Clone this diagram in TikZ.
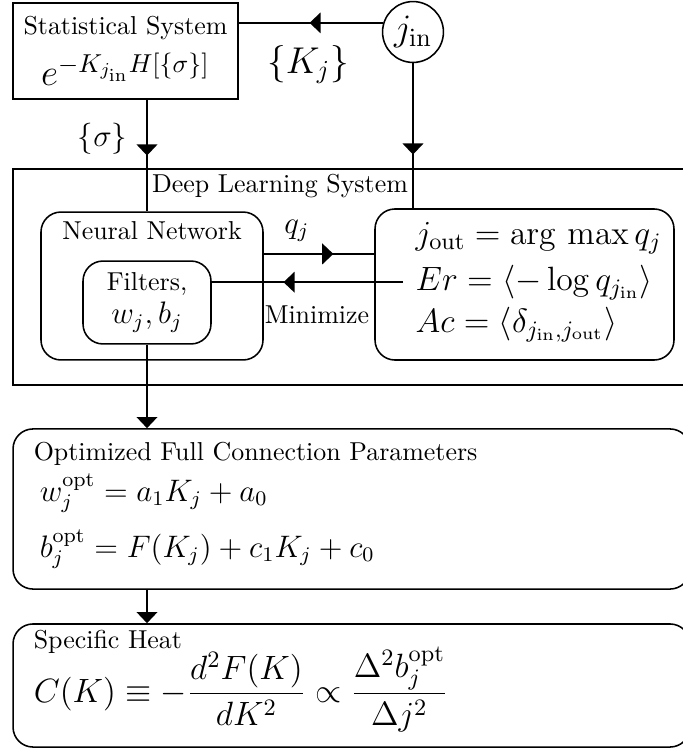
\RequirePackage{fix-cm}
\documentclass[tikz,border=0pt]{standalone}
\usepackage{tikz}
\usetikzlibrary{arrows.meta, positioning, decorations.markings}

\newcommand\eqfont{\fontsize{13}{15.6}\selectfont}

\begin{document}
\begin{tikzpicture}[x=0.386pt, y=-0.386pt, >={Triangle[length=4.3pt, width=8pt]}, line width=0.6pt,
    frame/.style={draw, rectangle, inner sep=0pt},
    block/.style={draw, rectangle, rounded corners=7.7pt, inner sep=0pt},
    eqn/.style={anchor=base west, inner xsep=4.6pt, inner ysep=0pt, font=\eqfont},
    heading/.style={anchor=base west, inner sep=0pt},
    midarrow/.style={postaction={decorate}, decoration={markings, mark=at position #1 with {\arrow{>}}}}]

\useasboundingbox (0,0) rectangle (683,748);
\clip (0,0) rectangle (683,748);

% input side
\node[frame, minimum width=86.9pt, minimum height=37.1pt, align=center] (stat) at (125.5,51) {Statistical System\\[4pt]\Large $e^{-K_{j_{\mathrm{in}}}H[\{\sigma\}]}$};
\node[circle, draw, minimum size=23.5pt, inner sep=0pt, font=\Large] (jin) at (413,32) {$j_{\mathrm{in}}$};

% deep learning part
\node[frame, minimum width=265.2pt, minimum height=83.4pt] (dl) at (356.5,277) {};
\node (dltitle) at (280,186.5) {Deep Learning System};
\node[block, minimum width=85.7pt, minimum height=57.1pt] (nn) at (152,286) {};
\node[below=0.5pt of nn.north] (nntitle) {Neural Network};
\node[block, minimum width=49.4pt, minimum height=32pt, align=center] (filt) at (147,302.5) {Filters,\\[1pt]\large $w_j, b_j$};
\node[block, minimum width=115.4pt, minimum height=58.3pt] (eqs) at (524.5,284.5) {};
\node[eqn] (jout) at (403,244) {$j_{\mathrm{out}} = \arg\,\max q_j$};
\node[eqn] (er) at (403,290) {$Er = \langle -\log q_{j_{\mathrm{in}}} \rangle$};
\node[eqn] (ac) at (403,332) {$Ac = \langle \delta_{j_{\mathrm{in}}, j_{\mathrm{out}}} \rangle$};

% results
\node[block, minimum width=261.3pt, minimum height=61.8pt] (opt) at (351.5,509) {};
\node[heading] (opttitle) at (33,460) {Optimized Full Connection Parameters};
\node[heading, font=\large] (wopt) at (39,501) {$w_j^{\mathrm{opt}} = a_1 K_j + a_0$};
\node[heading, font=\large] (bopt) at (39,557) {$b_j^{\mathrm{opt}} = F(K_j) + c_1 K_j + c_0$};
\node[block, minimum width=261.3pt, minimum height=47.5pt] (spec) at (351.5,685.5) {};
\node[heading] (spectitle) at (33,648) {Specific Heat};
\node[heading, font=\eqfont] (cheat) at (33,702) {$\displaystyle C(K) \equiv -\frac{d^2F(K)}{dK^2} \propto \frac{\Delta^2 b_j^{\mathrm{opt}}}{\Delta j^2}$};

% connectors
\draw[midarrow=0.51] (jin.163) -- node[below=5pt, pos=0.52, font=\Large] {$\{K_j\}$} (jin.163 -| stat.east);
\draw[midarrow=0.5] (stat.south -| filt.north) -- node[left=4pt, pos=0.345, font=\large] {$\{\sigma\}$} (nn.north -| filt.north);
\draw[midarrow=0.63] (jin.south) -- (jin.south |- eqs.north);
\draw[midarrow=0.63] (nn.16) -- node[above=1pt, pos=0.3, font=\large] {$q_j$} (nn.16 -| eqs.west);
\draw[midarrow=0.625] (er.west) -- node[below=5.4pt, pos=0.45] {Minimize} (er.west -| filt.east);
\draw[->] (filt.south) -- (filt.south |- opt.north);
\draw[->] (opt.south -| filt.south) -- (spec.north -| filt.south);
\end{tikzpicture}
\end{document}
